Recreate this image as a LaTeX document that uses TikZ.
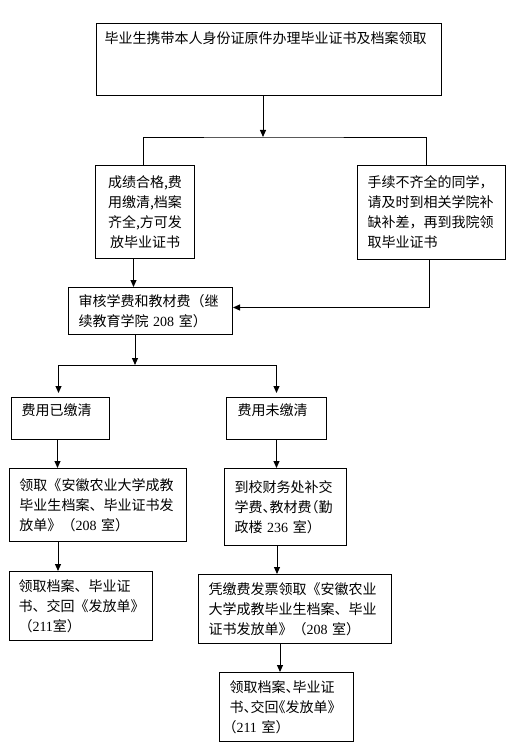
\documentclass[tikz,border=0pt]{standalone}
\usepackage{fontspec}
\setmainfont{Liberation Serif}
\newfontfamily\cjk{Noto Sans CJK SC}
\newfontfamily\cjktight[RawFeature=+halt]{Noto Sans CJK SC}
\usetikzlibrary{arrows.meta,positioning,calc}
\newcommand\numtxt[1]{{\rmfamily #1}}
\tikzset{
	box/.style= {draw, rectangle, line width=1pt, anchor=north west, align=left, inner xsep=10pt, inner ysep=3pt, font=\fontsize{14pt}{20pt}\cjk},
	tightbox/.style= {box, font=\fontsize{14pt}{20pt}\cjktight},
	topbox/.style= {box, text height=#1},
	arrow/.style= {-{Triangle[length=7pt,width=6pt]}, line width=1pt},
	line/.style= {line width=1pt}
}
\begin{document}
\begin{tikzpicture}[x=1pt,y=-1pt]
\useasboundingbox (0,0) rectangle (523,749);

%%%%%%%%%%%%%%%%%%%%% Nodes %%%%%%%%%%%%%%%%%%%%%
	\node [topbox=17pt, text depth=49pt, inner xsep=8pt, text width=329pt] (apply) at (96,23) {毕业生携带本人身份证原件办理毕业证书及档案领取};
	\node [box, align=center, text width=79pt, minimum height=93pt] (ok) at (95,165) {成绩合格,费\\用缴清,档案\\齐全,方可发\\放毕业证书};
	\node [box, text width=128pt, minimum height=94pt] (missing) at (357,165) {手续不齐全的同学，\\请及时到相关学院补\\缺补差，再到我院领\\取毕业证书};
	\node [box, text width=144pt, minimum height=47pt] (review) at (68,287) {审核学费和教材费（继\\续教育学院 \numtxt{208} 室）};
	\node [topbox=15pt, text depth=21pt, text width=78pt] (paid) at (11,397) {费用已缴清};
	\node [topbox=15pt, text depth=21pt, inner xsep=11pt, text width=78pt] (unpaid) at (226,397) {费用未缴清};
	\node [box, text width=157pt, minimum height=73pt] (form) at (9,468) {领取《安徽农业大学成教\\毕业生档案、毕业证书发\\放单》（\numtxt{208} 室）};
	\node [tightbox, text width=102pt, minimum height=77pt] (payfin) at (224,468) {到校财务处补交\\学费、教材费（勤\\政楼 \numtxt{236} 室）};
	\node [box, inner xsep=9pt, text width=125pt, minimum height=69pt] (collectA) at (9,571) {领取档案、毕业证\\书、交回《发放单》\\（\numtxt{211}室）};
	\node [box, text width=173pt, minimum height=69pt] (invoice) at (198,574) {凭缴费发票领取《安徽农业\\大学成教毕业生档案、毕业\\证书发放单》（\numtxt{208} 室）};
	\node [tightbox, text width=114pt, minimum height=69pt] (collectB) at (219,672) {领取档案、毕业证\\书、交回《发放单》\\（\numtxt{211} 室）};

%%%%%%%%%%%%%%%%%%%%% Arrows %%%%%%%%%%%%%%%%%%%%%
	\coordinate (fork1) at (263,137);
	\coordinate (fork2) at (135,365);
	\draw [arrow] (apply.south -| fork1) -- (fork1);
	\draw [line] ([xshift=-1.5pt]ok.north) |- (fork1) -| ([xshift=-5pt]missing.north);
	\draw [arrow] ([xshift=-11.5pt]ok.south) -- ([xshift=-11.5pt]ok.south |- review.north);
	\draw [arrow] ([xshift=-2pt]missing.south) |- ([yshift=3.5pt]review.east);
	\draw [arrow] (review.south -| fork2) -- (fork2);
	\draw [arrow, shorten >=4pt] (fork2) -| ([xshift=-2pt]paid.north);
	\draw [arrow, shorten >=4pt] (fork2) -| (unpaid.north);
	\draw [arrow] ([xshift=-3pt]paid.south) -- ([xshift=-3pt]paid.south |- form.north);
	\draw [arrow] (unpaid.south) -- (unpaid.south |- payfin.north);
	\draw [arrow] ([xshift=49pt]form.south west) -- ([xshift=49pt]form.south west |- collectA.north);
	\draw [arrow] ([xshift=53pt]payfin.south west) -- ([xshift=53pt]payfin.south west |- invoice.north);
	\draw [arrow] ([xshift=82pt]invoice.south west) -- ([xshift=82pt]invoice.south west |- collectB.north);

\end{tikzpicture}
\end{document}
